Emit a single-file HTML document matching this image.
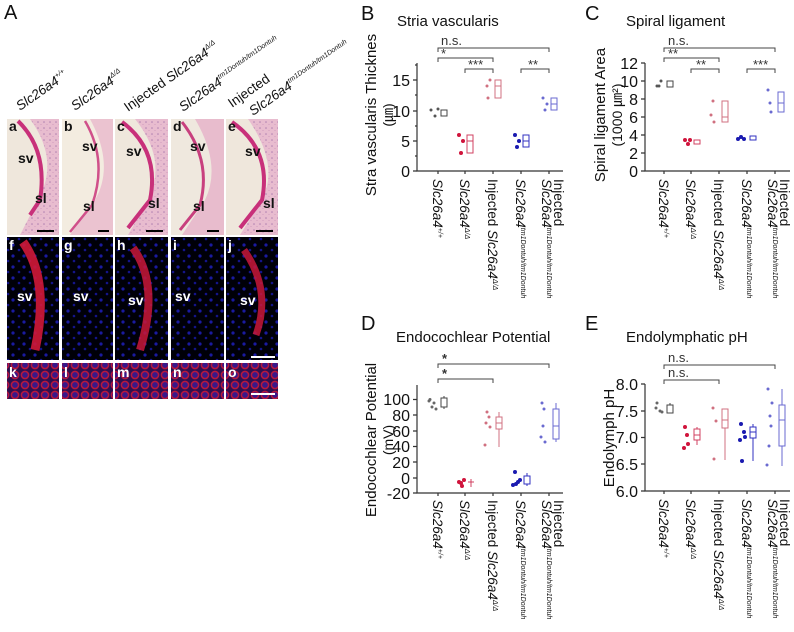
<!DOCTYPE html>
<html><head><meta charset="utf-8"><style>
html,body{margin:0;padding:0;background:#fff;width:794px;height:632px;overflow:hidden}
svg{display:block;font-family:"Liberation Sans",Arial,sans-serif}
.t{font-size:13.5px;fill:#111}
.it{font-style:italic}
.sup{font-size:7px;font-style:italic}
.tk{font-size:16px;fill:#111}
.ttl{font-size:15px;fill:#111}
.pl{font-size:20px;fill:#111}
.ax{stroke:#333;stroke-width:1.2;fill:none}
.br{stroke:#444;stroke-width:1;fill:none}
.st{font-size:13px;fill:#333}
.lbl{font-size:14px;font-weight:bold;fill:#111}
.lw{font-size:14px;font-weight:bold;fill:#fff}
</style></head><body>
<svg width="794" height="632" viewBox="0 0 794 632" xmlns="http://www.w3.org/2000/svg">
<defs>
<pattern id="bd" width="11" height="11" patternUnits="userSpaceOnUse">
<rect width="11" height="11" fill="#000008"/>
<circle cx="2" cy="3" r="1.6" fill="#1a1aa0"/><circle cx="8" cy="8" r="1.3" fill="#14148a"/>
</pattern>
<pattern id="cells" width="10" height="10" patternUnits="userSpaceOnUse">
<rect width="10" height="10" fill="#301050"/>
<circle cx="5" cy="5" r="3.6" fill="#3a1888" stroke="#b8183c" stroke-width="1.5"/>
</pattern>
<pattern id="he" width="6" height="6" patternUnits="userSpaceOnUse">
<rect width="6" height="6" fill="#e8bccf"/><circle cx="2" cy="2" r="0.8" fill="#b080b0"/><circle cx="5" cy="4.5" r="0.5" fill="#c890b8"/>
</pattern>
</defs>

<!-- Panel A -->
<text x="4" y="19" class="pl">A</text>
<g class="t">
<text transform="translate(20,111) rotate(-35)"><tspan class="it">Slc26a4</tspan><tspan class="sup" dy="-6">+/+</tspan></text>
<text transform="translate(75,111) rotate(-35)"><tspan class="it">Slc26a4</tspan><tspan class="sup" dy="-6">Δ/Δ</tspan></text>
<text transform="translate(128,112) rotate(-35)">Injected <tspan class="it">Slc26a4</tspan><tspan class="sup" dy="-6">Δ/Δ</tspan></text>
<text transform="translate(183,112) rotate(-35)"><tspan class="it">Slc26a4</tspan><tspan class="sup" dy="-6">tm1Dontuh/tm1Dontuh</tspan></text>
<text transform="translate(232,108) rotate(-35)">Injected</text>
<text transform="translate(253,116) rotate(-35)"><tspan class="it">Slc26a4</tspan><tspan class="sup" dy="-6">tm1Dontuh/tm1Dontuh</tspan></text>
</g>

<!-- row1 H&E -->
<g>
<rect x="7" y="119" width="52" height="116" fill="#efe7dc"/>
<path d="M 30 119 Q 60 160 38 200 L 20 235 L 59 235 L 59 119 Z" fill="url(#he)"/>
<path d="M 18 121 Q 48 150 40 200 L 30 215" stroke="#c8307a" stroke-width="4" fill="none"/>
<text x="9" y="131" class="lbl">a</text><text x="18" y="163" class="lbl">sv</text><text x="35" y="203" class="lbl">sl</text>
<rect x="37" y="230" width="17" height="2" fill="#000"/>

<rect x="62" y="119" width="51" height="116" fill="#f3ece0"/>
<path d="M 90 119 Q 115 165 95 200 L 70 235 L 113 235 L 113 119 Z" fill="#ebc3d0"/>
<path d="M 85 121 Q 108 160 92 205 L 70 232" stroke="#d0508a" stroke-width="2.5" fill="none"/>
<text x="64" y="131" class="lbl">b</text><text x="82" y="151" class="lbl">sv</text><text x="83" y="211" class="lbl">sl</text>
<rect x="98" y="230" width="11" height="2" fill="#000"/>

<rect x="115" y="119" width="53" height="116" fill="#efe7dc"/>
<path d="M 135 119 Q 168 160 148 200 L 128 235 L 168 235 L 168 119 Z" fill="url(#he)"/>
<path d="M 122 122 Q 160 150 150 200 L 128 228" stroke="#c8307a" stroke-width="4" fill="none"/>
<text x="117" y="131" class="lbl">c</text><text x="126" y="156" class="lbl">sv</text><text x="148" y="208" class="lbl">sl</text>
<rect x="146" y="230" width="17" height="2" fill="#000"/>

<rect x="171" y="119" width="53" height="116" fill="#efe8de"/>
<path d="M 195 119 Q 222 165 205 200 L 182 235 L 224 235 L 224 119 Z" fill="#e8bccd"/>
<path d="M 182 122 Q 212 160 200 205 L 180 230" stroke="#c8407e" stroke-width="3" fill="none"/>
<text x="173" y="131" class="lbl">d</text><text x="190" y="151" class="lbl">sv</text><text x="193" y="211" class="lbl">sl</text>
<rect x="207" y="230" width="12" height="2" fill="#000"/>

<rect x="226" y="119" width="52" height="116" fill="#efe7dc"/>
<path d="M 248 119 Q 280 165 262 200 L 240 235 L 278 235 L 278 119 Z" fill="url(#he)"/>
<path d="M 232 122 Q 272 150 262 200 L 240 228" stroke="#c8307a" stroke-width="4" fill="none"/>
<text x="228" y="131" class="lbl">e</text><text x="245" y="156" class="lbl">sv</text><text x="263" y="208" class="lbl">sl</text>
<rect x="256" y="230" width="17" height="2" fill="#000"/>
</g>

<!-- row2 fluorescence -->
<g>
<rect x="7" y="237" width="52" height="123" fill="url(#bd)"/>
<path d="M 23 242 Q 50 280 35 350" stroke="#d01838" stroke-width="9" fill="none" opacity="0.9"/>
<rect x="62" y="237" width="51" height="123" fill="url(#bd)"/>
<rect x="115" y="237" width="53" height="123" fill="url(#bd)"/>
<path d="M 133 248 Q 160 285 140 350" stroke="#c81838" stroke-width="8" fill="none" opacity="0.85"/>
<rect x="171" y="237" width="53" height="123" fill="url(#bd)"/>
<rect x="226" y="237" width="52" height="123" fill="url(#bd)"/>
<path d="M 244 250 Q 272 290 256 335" stroke="#c81838" stroke-width="7" fill="none" opacity="0.85"/>
<text x="9" y="250" class="lw">f</text><text x="64" y="250" class="lw">g</text><text x="117" y="250" class="lw">h</text><text x="173" y="250" class="lw">i</text><text x="228" y="250" class="lw">j</text>
<text x="17" y="301" class="lw">sv</text><text x="73" y="301" class="lw">sv</text><text x="128" y="305" class="lw">sv</text><text x="175" y="301" class="lw">sv</text><text x="240" y="305" class="lw">sv</text>
<rect x="251" y="356" width="24" height="2" fill="#fff"/>
</g>
<!-- row3 -->
<g>
<rect x="7" y="363" width="52" height="36" fill="url(#cells)"/>
<rect x="62" y="363" width="51" height="36" fill="url(#cells)"/>
<rect x="115" y="363" width="53" height="36" fill="url(#cells)"/>
<rect x="171" y="363" width="53" height="36" fill="url(#cells)"/>
<rect x="226" y="363" width="52" height="36" fill="url(#cells)"/>
<text x="9" y="377" class="lw">k</text><text x="64" y="377" class="lw">l</text><text x="117" y="377" class="lw">m</text><text x="173" y="377" class="lw">n</text><text x="228" y="377" class="lw">o</text>
<rect x="251" y="393" width="24" height="2" fill="#fff"/>
</g>

<!-- ============ Panel B ============ -->
<text x="361" y="20" class="pl">B</text>
<text x="397" y="26" class="ttl">Stria vascularis</text>
<text transform="translate(376,115) rotate(-90)" text-anchor="middle" class="tk" style="font-size:15px">Stra vascularis Thicknes</text>
<text transform="translate(393,115) rotate(-90)" text-anchor="middle" class="tk" style="font-size:14px">(㎛)</text>
<g class="ax">
<path d="M417 63 V171 H563"/>
<path d="M417 171 h-4 M417 141 h-4 M417 111 h-4 M417 80 h-4 M417 156 h-2 M417 126 h-2 M417 95 h-2 M417 65 h-2"/>
<path d="M438 171 v3 M465 171 v3 M493 171 v3 M521 171 v3 M549 171 v3"/>
</g>
<g class="tk" text-anchor="end"><text x="410" y="177">0</text><text x="410" y="147">5</text><text x="410" y="117">10</text><text x="410" y="86">15</text></g>
<g class="br">
<path d="M438 52 V48 H549 V52"/><path d="M438 62 V58 H493 V62"/><path d="M465 73 V69 H493 V73"/><path d="M521 73 V69 H549 V73"/>
</g>
<g class="st"><text x="441" y="45">n.s.</text><text x="441" y="58">*</text><text x="468" y="69">***</text><text x="528" y="69">**</text></g>
<g fill="#555"><circle cx="431" cy="110" r="1.5"/><circle cx="435" cy="116" r="1.5"/><circle cx="438" cy="109" r="1.5"/></g>
<rect x="441" y="110" width="6" height="6" fill="none" stroke="#444"/>
<g fill="#d0143c"><circle cx="459" cy="135" r="2"/><circle cx="463" cy="141" r="2"/><circle cx="461" cy="153" r="2"/></g>
<rect x="467" y="135" width="6" height="18" fill="none" stroke="#d04060"/><path d="M467 141h6" stroke="#d04060"/>
<g fill="#d07080"><circle cx="487" cy="86" r="1.5"/><circle cx="490" cy="80" r="1.5"/><circle cx="488" cy="98" r="1.5"/></g>
<rect x="495" y="80" width="6" height="18" fill="none" stroke="#d07080"/><path d="M495 86h6" stroke="#d07080"/>
<g fill="#1a1ab0"><circle cx="515" cy="135" r="2"/><circle cx="519" cy="141" r="2"/><circle cx="517" cy="147" r="2"/></g>
<rect x="523" y="135" width="6" height="12" fill="none" stroke="#3030c0"/><path d="M523 141h6" stroke="#3030c0"/>
<g fill="#6a6ad0"><circle cx="543" cy="98" r="1.5"/><circle cx="547" cy="104" r="1.5"/><circle cx="545" cy="110" r="1.5"/></g>
<rect x="551" y="98" width="6" height="12" fill="none" stroke="#6a6ad0"/><path d="M551 104h6" stroke="#6a6ad0"/>

<!-- ============ Panel C ============ -->
<text x="585" y="20" class="pl">C</text>
<text x="626" y="26" class="ttl">Spiral ligament</text>
<text transform="translate(605,115) rotate(-90)" text-anchor="middle" class="tk" style="font-size:15px">Spiral ligament Area</text>
<text transform="translate(622,115) rotate(-90)" text-anchor="middle" class="tk" style="font-size:14px">(1000 ㎛²)</text>
<g class="ax">
<path d="M645 63 V171 H790"/>
<path d="M645 171 h-4 M645 153 h-4 M645 135 h-4 M645 117 h-4 M645 99 h-4 M645 81 h-4 M645 63 h-4"/>
<path d="M664 171 v3 M691 171 v3 M719 171 v3 M747 171 v3 M775 171 v3"/>
</g>
<g class="tk" text-anchor="end"><text x="638" y="177">0</text><text x="638" y="159">2</text><text x="638" y="141">4</text><text x="638" y="123">6</text><text x="638" y="105">8</text><text x="638" y="87">10</text><text x="638" y="69">12</text></g>
<g class="br">
<path d="M664 52 V48 H775 V52"/><path d="M664 62 V58 H719 V62"/><path d="M691 73 V69 H719 V73"/><path d="M747 73 V69 H775 V73"/>
</g>
<g class="st"><text x="668" y="45">n.s.</text><text x="668" y="58">**</text><text x="696" y="69">**</text><text x="753" y="69">***</text></g>
<g fill="#555"><circle cx="657" cy="86" r="1.5"/><circle cx="661" cy="81" r="1.5"/><circle cx="659" cy="86" r="1.5"/></g>
<rect x="667" y="81" width="6" height="6" fill="none" stroke="#444"/>
<g fill="#d0143c"><circle cx="685" cy="140" r="2"/><circle cx="688" cy="144" r="2"/><circle cx="690" cy="140" r="2"/></g>
<rect x="694" y="140" width="6" height="4" fill="none" stroke="#d04060"/>
<g fill="#d07080"><circle cx="713" cy="101" r="1.5"/><circle cx="711" cy="115" r="1.5"/><circle cx="714" cy="122" r="1.5"/></g>
<rect x="722" y="101" width="6" height="21" fill="none" stroke="#d07080"/><path d="M722 117h6" stroke="#d07080"/>
<g fill="#1a1ab0"><circle cx="741" cy="137" r="2"/><circle cx="744" cy="139" r="2"/><circle cx="738" cy="139" r="2"/></g>
<rect x="750" y="136" width="6" height="4" fill="none" stroke="#3030c0"/>
<g fill="#6a6ad0"><circle cx="768" cy="90" r="1.5"/><circle cx="770" cy="103" r="1.5"/><circle cx="771" cy="112" r="1.5"/></g>
<rect x="778" y="92" width="6" height="20" fill="none" stroke="#6a6ad0"/><path d="M778 103h6" stroke="#6a6ad0"/>

<g class="t">
<text transform="translate(433,179) rotate(90)"><tspan class="it">Slc26a4</tspan><tspan class="sup" dy="-5">+/+</tspan></text>
<text transform="translate(460,179) rotate(90)"><tspan class="it">Slc26a4</tspan><tspan class="sup" dy="-5">Δ/Δ</tspan></text>
<text transform="translate(488,179) rotate(90)">Injected <tspan class="it">Slc26a4</tspan><tspan class="sup" dy="-5">Δ/Δ</tspan></text>
<text transform="translate(516,179) rotate(90)"><tspan class="it">Slc26a4</tspan><tspan class="sup" dy="-5">tm1Dontuh/tm1Dontuh</tspan></text>
<text transform="translate(554,179) rotate(90)">Injected</text>
<text transform="translate(542,179) rotate(90)"><tspan class="it">Slc26a4</tspan><tspan class="sup" dy="-5">tm1Dontuh/tm1Dontuh</tspan></text>

<text transform="translate(659,179) rotate(90)"><tspan class="it">Slc26a4</tspan><tspan class="sup" dy="-5">+/+</tspan></text>
<text transform="translate(686,179) rotate(90)"><tspan class="it">Slc26a4</tspan><tspan class="sup" dy="-5">Δ/Δ</tspan></text>
<text transform="translate(714,179) rotate(90)">Injected <tspan class="it">Slc26a4</tspan><tspan class="sup" dy="-5">Δ/Δ</tspan></text>
<text transform="translate(742,179) rotate(90)"><tspan class="it">Slc26a4</tspan><tspan class="sup" dy="-5">tm1Dontuh/tm1Dontuh</tspan></text>
<text transform="translate(780,179) rotate(90)">Injected</text>
<text transform="translate(768,179) rotate(90)"><tspan class="it">Slc26a4</tspan><tspan class="sup" dy="-5">tm1Dontuh/tm1Dontuh</tspan></text>
</g>

<!-- ============ Panel D ============ -->
<text x="361" y="330" class="pl">D</text>
<text x="396" y="342" class="ttl">Endocochlear Potential</text>
<text transform="translate(376,440) rotate(-90)" text-anchor="middle" class="tk" style="font-size:15px">Endocochlear Potential</text>
<text transform="translate(393,440) rotate(-90)" text-anchor="middle" class="tk" style="font-size:14px">(mV)</text>
<g class="ax">
<path d="M417 385 V493 H563"/>
<path d="M417 493 h-4 M417 478 h-4 M417 462 h-4 M417 446.5 h-4 M417 431 h-4 M417 415 h-4 M417 399.5 h-4"/>
<path d="M438 493 v3 M465 493 v3 M493 493 v3 M521 493 v3 M549 493 v3"/>
</g>
<g class="tk" text-anchor="end"><text x="410" y="499">-20</text><text x="410" y="484">0</text><text x="410" y="468">20</text><text x="410" y="452">40</text><text x="410" y="437">60</text><text x="410" y="421">80</text><text x="410" y="405">100</text></g>
<g class="br"><path d="M438 368 V364 H549 V368"/><path d="M438 383 V379 H493 V383"/></g>
<g class="st" style="font-weight:bold"><text x="442" y="363">*</text><text x="442" y="378">*</text></g>
<g fill="#666"><circle cx="430" cy="399.5" r="1.5"/><circle cx="434" cy="403" r="1.5"/><circle cx="432" cy="407" r="1.5"/><circle cx="436" cy="409" r="1.5"/><circle cx="429" cy="401" r="1.5"/></g>
<path d="M444 396V398 M444 407V409" stroke="#444"/><rect x="441" y="398" width="6" height="9" fill="none" stroke="#444"/>
<g fill="#d0143c"><circle cx="459" cy="482" r="2"/><circle cx="462" cy="486" r="2"/><circle cx="464" cy="480" r="2"/><circle cx="461" cy="483" r="2"/></g>
<path d="M471 479V487 M468 482h6" stroke="#d04060"/>
<g fill="#d07080"><circle cx="487" cy="412" r="1.5"/><circle cx="489" cy="417" r="1.5"/><circle cx="486" cy="423" r="1.5"/><circle cx="490" cy="427" r="1.5"/><circle cx="485" cy="445" r="1.5"/></g>
<path d="M499 412V417 M499 429V447" stroke="#d07080"/><rect x="496" y="417" width="6" height="12" fill="none" stroke="#d07080"/><path d="M496 423h6" stroke="#d07080"/>
<g fill="#1a1ab0"><circle cx="515" cy="472" r="2"/><circle cx="518" cy="482" r="2"/><circle cx="516" cy="484" r="2"/><circle cx="520" cy="480" r="2"/><circle cx="513" cy="485" r="2"/></g>
<path d="M527 473V476 M527 484V486" stroke="#3030c0"/><rect x="524" y="476" width="6" height="8" fill="none" stroke="#3030c0"/>
<g fill="#6a6ad0"><circle cx="542" cy="403" r="1.5"/><circle cx="544" cy="409" r="1.5"/><circle cx="543" cy="426" r="1.5"/><circle cx="541" cy="437" r="1.5"/><circle cx="545" cy="442" r="1.5"/></g>
<path d="M556 403V409 M556 439V442" stroke="#6a6ad0"/><rect x="553" y="409" width="6" height="30" fill="none" stroke="#6a6ad0"/><path d="M553 426h6" stroke="#6a6ad0"/>

<!-- ============ Panel E ============ -->
<text x="585" y="330" class="pl">E</text>
<text x="626" y="342" class="ttl">Endolymphatic pH</text>
<text transform="translate(614,438) rotate(-90)" text-anchor="middle" class="tk" style="font-size:15px">Endolymph pH</text>
<g class="ax">
<path d="M645 384 V491 H790"/>
<path d="M645 491 h-4 M645 464 h-4 M645 437.5 h-4 M645 411 h-4 M645 384 h-4"/>
<path d="M664 491 v3 M691 491 v3 M719 491 v3 M747 491 v3 M775 491 v3"/>
</g>
<g class="tk" text-anchor="end"><text x="638" y="497">6.0</text><text x="638" y="470">6.5</text><text x="638" y="443">7.0</text><text x="638" y="417">7.5</text><text x="638" y="390">8.0</text></g>
<g class="br"><path d="M664 369 V365 H775 V369"/><path d="M664 384 V380 H719 V384"/></g>
<g class="st"><text x="668" y="362">n.s.</text><text x="668" y="377">n.s.</text></g>
<g fill="#666"><circle cx="657" cy="403" r="1.5"/><circle cx="660" cy="411" r="1.5"/><circle cx="662" cy="412" r="1.5"/><circle cx="656" cy="408" r="1.5"/></g>
<path d="M670 403V405" stroke="#444"/><rect x="667" y="405" width="6" height="8" fill="none" stroke="#444"/>
<g fill="#d0143c"><circle cx="685" cy="427" r="2"/><circle cx="687" cy="435" r="2"/><circle cx="684" cy="448" r="2"/><circle cx="688" cy="444" r="2"/></g>
<path d="M697 427V429 M697 440V445" stroke="#d04060"/><rect x="694" y="429" width="6" height="11" fill="none" stroke="#d04060"/><path d="M694 435h6" stroke="#d04060"/>
<g fill="#d07080"><circle cx="713" cy="408" r="1.5"/><circle cx="716" cy="421" r="1.5"/><circle cx="714" cy="459" r="1.5"/></g>
<path d="M725 428V460" stroke="#d07080"/><rect x="722" y="409" width="6" height="19" fill="none" stroke="#d07080"/><path d="M722 420h6" stroke="#d07080"/>
<g fill="#1a1ab0"><circle cx="741" cy="424" r="2"/><circle cx="744" cy="432" r="2"/><circle cx="740" cy="440" r="2"/><circle cx="742" cy="461" r="2"/><circle cx="745" cy="437" r="2"/></g>
<path d="M753 424V427 M753 438V461" stroke="#3030c0"/><rect x="750" y="427" width="6" height="11" fill="none" stroke="#3030c0"/><path d="M750 432h6" stroke="#3030c0"/>
<g fill="#6a6ad0"><circle cx="768" cy="389" r="1.5"/><circle cx="772" cy="403" r="1.5"/><circle cx="770" cy="416" r="1.5"/><circle cx="769" cy="446" r="1.5"/><circle cx="767" cy="465" r="1.5"/><circle cx="771" cy="426" r="1.5"/></g>
<path d="M782 389V405 M782 446V466" stroke="#6a6ad0"/><rect x="779" y="405" width="6" height="41" fill="none" stroke="#6a6ad0"/><path d="M779 420h6" stroke="#6a6ad0"/>

<g class="t">
<text transform="translate(433,500) rotate(90)"><tspan class="it">Slc26a4</tspan><tspan class="sup" dy="-5">+/+</tspan></text>
<text transform="translate(460,500) rotate(90)"><tspan class="it">Slc26a4</tspan><tspan class="sup" dy="-5">Δ/Δ</tspan></text>
<text transform="translate(488,500) rotate(90)">Injected <tspan class="it">Slc26a4</tspan><tspan class="sup" dy="-5">Δ/Δ</tspan></text>
<text transform="translate(516,500) rotate(90)"><tspan class="it">Slc26a4</tspan><tspan class="sup" dy="-5">tm1Dontuh/tm1Dontuh</tspan></text>
<text transform="translate(554,500) rotate(90)">Injected</text>
<text transform="translate(542,500) rotate(90)"><tspan class="it">Slc26a4</tspan><tspan class="sup" dy="-5">tm1Dontuh/tm1Dontuh</tspan></text>

<text transform="translate(659,499) rotate(90)"><tspan class="it">Slc26a4</tspan><tspan class="sup" dy="-5">+/+</tspan></text>
<text transform="translate(686,499) rotate(90)"><tspan class="it">Slc26a4</tspan><tspan class="sup" dy="-5">Δ/Δ</tspan></text>
<text transform="translate(714,499) rotate(90)">Injected <tspan class="it">Slc26a4</tspan><tspan class="sup" dy="-5">Δ/Δ</tspan></text>
<text transform="translate(742,499) rotate(90)"><tspan class="it">Slc26a4</tspan><tspan class="sup" dy="-5">tm1Dontuh/tm1Dontuh</tspan></text>
<text transform="translate(780,499) rotate(90)">Injected</text>
<text transform="translate(768,499) rotate(90)"><tspan class="it">Slc26a4</tspan><tspan class="sup" dy="-5">tm1Dontuh/tm1Dontuh</tspan></text>
</g>
</svg>
</body></html>
